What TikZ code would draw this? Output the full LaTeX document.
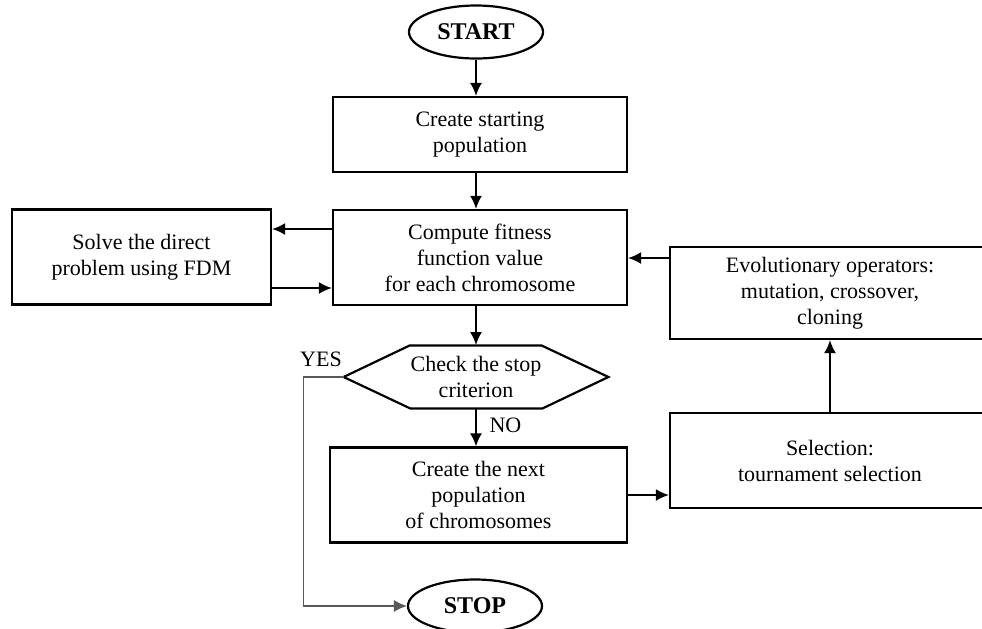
\documentclass[tikz,border=0pt]{standalone}
\usepackage{fontspec}
\setmainfont{Liberation Serif}
\usepackage{tikz}
\usetikzlibrary{calc,positioning,arrows.meta,shapes.geometric}

\tikzset{
  block/.style={draw,line width=1.1pt,minimum width=147pt,minimum height=47.5pt,align=center,inner sep=2pt},
  term/.style={draw,ellipse,line width=1.1pt,minimum width=67pt,minimum height=26.5pt,font=\fontsize{12}{14}\selectfont\bfseries},
  link/.style={line width=0.9pt,-{Latex[length=6.5pt,width=6pt]}}
}

\begin{document}
\begin{tikzpicture}[x=0.5pt,y=-0.5pt,font=\fontsize{11}{13}\selectfont]
 \useasboundingbox (0,0) rectangle (982,628);
 \clip (0,0) rectangle (982,628);

    % main column
    \node[term] (start) at (476,32) {START};
    \node[block,minimum height=37.5pt] (create) at (480,134.5) {Create starting\\population};
    \node[block] (fitness) at (480,257.5) {Compute fitness\\function value\\for each chromosome};
    \node[align=center,minimum width=132pt,minimum height=31.5pt,inner sep=0pt] (check) at (476,377) {Check the stop\\criterion};
    \node[block,minimum width=148.5pt] (next) at (478.5,495) {Create the next\\population\\of chromosomes};
    \node[term] (stop) at (475,606) {STOP};

    % side boxes
    \node[block,minimum width=129.5pt] (solve) at (141.5,257) {Solve the direct\\problem using FDM};
    \node[block,minimum width=160pt,minimum height=46pt] (evo) at (830,293) {Evolutionary operators:\\mutation, crossover,\\cloning};
    \node[block,minimum width=160pt] (sel) at (830,460.5) {Selection:\\tournament selection};

    % draw hexagon
    \draw[line width=1.1pt] (check.west) -- ++(66,-31.5) -- ++(132,0) -- (check.east)
      -- ++(-66,31.5) -- ++(-132,0) -- cycle;

    % arrows
    \draw[link] (start.south) -- (start.south |- create.north);
    \draw[link] (create.south -| start.south) -- (start.south |- fitness.north);
    \draw[link] (fitness.south -| start.south) -- (start.south |- check.north);
    \draw[link] (check.south -| start.south) -- (start.south |- next.north) node[pos=0.45,right=3pt] (no_label) {NO};
    \draw[link] ($(fitness.west)+(0,-28.5)$) coordinate (f1) -- (f1 -| solve.east);
    \draw[link] ($(solve.east)+(0,31)$) coordinate (s1) -- (s1 -| fitness.west);
    \draw[link] ($(evo.west)+(0,-35)$) coordinate (e1) -- (e1 -| fitness.east);
    \draw[link] (sel.north) -- (evo.south);
    \draw[link] (next.east) -- (next.east -| sel.west);
    \draw[gray!70!black,line width=0.6pt,-{Latex[length=6.5pt,width=6pt]}] (check.west) -- ++(-40,0) coordinate (y1) |- (stop.west);
    \node (yes_label) at (321,359) {YES};

\end{tikzpicture}
\end{document}
